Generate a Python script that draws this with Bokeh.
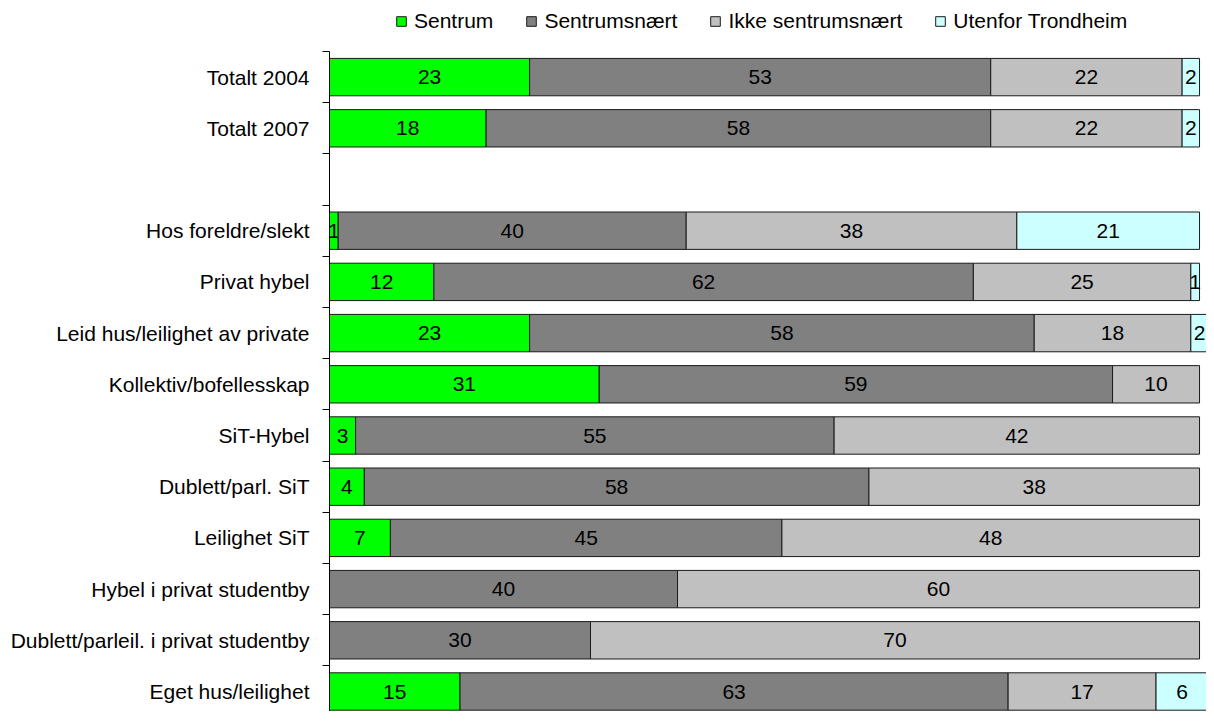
from bokeh.plotting import figure
from bokeh.models import ColumnDataSource, Range1d, FixedTicker, Legend, LegendItem
from bokeh.core.properties import value
from bokeh.embed import file_html
from bokeh.resources import INLINE

categories = [
    "Totalt 2004",
    "Totalt 2007",
    "",
    "Hos foreldre/slekt",
    "Privat hybel",
    "Leid hus/leilighet av private",
    "Kollektiv/bofellesskap",
    "SiT-Hybel",
    "Dublett/parl. SiT",
    "Leilighet SiT",
    "Hybel i privat studentby",
    "Dublett/parleil. i privat studentby",
    "Eget hus/leilighet",
]
series_names = ["Sentrum", "Sentrumsnært", "Ikke sentrumsnært", "Utenfor Trondheim"]
sentrum = [23, 18, 0, 1, 12, 23, 31, 3, 4, 7, 0, 0, 15]
sentrumsnaert = [53, 58, 0, 40, 62, 58, 59, 55, 58, 45, 40, 30, 63]
ikke_sentrumsnaert = [22, 22, 0, 38, 25, 18, 10, 42, 38, 48, 60, 70, 17]
utenfor = [2, 2, 0, 21, 1, 2, 0, 0, 0, 0, 0, 0, 6]
colors = ["#00FF00", "#808080", "#C0C0C0", "#CCFFFF"]

series_values = [sentrum, sentrumsnaert, ikke_sentrumsnaert, utenfor]
n = len(categories)
ypos = [n - 1 - i for i in range(n)]

FONT = "Liberation Sans"
FS = "21px"
FS_LEG = "21px"

H = 711
TOP = 51          # px from top where the category area starts
SLOT = 51.2       # px per category slot
y_top = (n - 0.5) + TOP / SLOT
y_bot = (n - 0.5) - (H - TOP) / SLOT

p = figure(
    width=1206, height=H,
    x_range=Range1d(0, 100.8), y_range=Range1d(y_bot, y_top),
    x_axis_location=None,
    output_backend="svg", toolbar_location=None,
    min_border_left=329, min_border_right=0, min_border_top=0, min_border_bottom=0,
)
p.xgrid.visible = False
p.ygrid.visible = False
p.outline_line_color = None
p.background_fill_color = "white"

items = []
cum = [0.0] * n
for name, vals, col in zip(series_names, series_values, colors):
    ys, lefts, rights, mids, labels = [], [], [], [], []
    for i in range(n):
        v = vals[i]
        if v > 0:
            ys.append(ypos[i])
            lefts.append(cum[i])
            rights.append(cum[i] + v)
            mids.append(cum[i] + v / 2.0)
            labels.append(str(v))
        cum[i] += v
    src = ColumnDataSource(dict(y=ys, left=lefts, right=rights, mid=mids, label=labels))
    r = p.hbar(y="y", left="left", right="right", height=0.73, source=src,
               fill_color=col, line_color="#1a1a1a", line_width=1)
    p.text(x="mid", y="y", text="label", source=src,
           text_align="center", text_baseline="middle",
           text_font=value(FONT), text_font_size=FS, text_color="black")
    items.append(LegendItem(label=name, renderers=[r]))

ax = p.yaxis[0]
major = [ypos[i] for i in range(n) if categories[i]]
minor = [k + 0.5 for k in range(n)]
ax.ticker = FixedTicker(ticks=major, minor_ticks=minor)
ax.bounds = (y_bot, n - 0.5)
ax.major_label_overrides = {ypos[i]: categories[i] for i in range(n) if categories[i]}
ax.major_tick_line_color = None
ax.major_tick_out = 0
ax.major_tick_in = 0
ax.minor_tick_line_color = "black"
ax.minor_tick_out = 7
ax.minor_tick_in = 0
ax.axis_line_color = "black"
ax.major_label_standoff = 13
ax.major_label_text_font = FONT
ax.major_label_text_font_size = FS
ax.major_label_text_color = "black"

lg = Legend(items=items, orientation="horizontal", location=(66, H - 33))
lg.padding = 0
lg.margin = 0
lg.spacing = 32
lg.glyph_width = 12
lg.glyph_height = 12
lg.label_standoff = 7
lg.label_height = 21
lg.label_text_font = FONT
lg.label_text_font_size = FS_LEG
lg.label_text_color = "black"
lg.border_line_color = None
lg.background_fill_alpha = 0
p.add_layout(lg, "center")

open("out.html", "w").write(file_html(p, INLINE))
